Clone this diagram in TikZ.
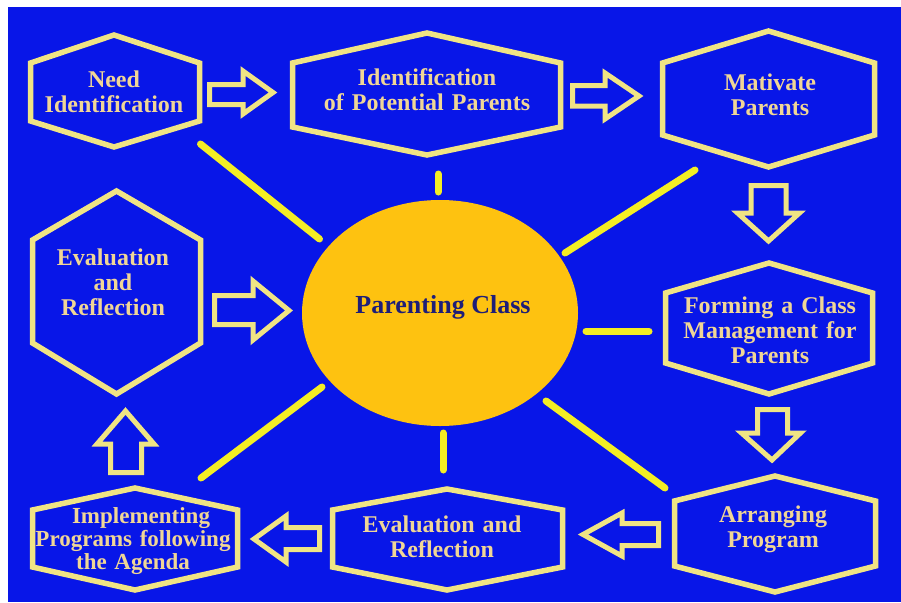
\documentclass[tikz,border=0pt]{standalone}
\usepackage{fontspec}
\setmainfont{Liberation Serif}
\usetikzlibrary{shapes.geometric}
\definecolor{bg}{RGB}{8,22,232}
\definecolor{edge}{RGB}{240,228,132}
\definecolor{spoke}{RGB}{244,238,36}
\definecolor{txt}{RGB}{240,214,150}
\definecolor{sun}{RGB}{254,194,16}
\definecolor{navy}{RGB}{30,30,120}
\begin{document}
\begin{tikzpicture}[x=1pt,y=-1pt,
  hexline/.style={draw=edge, line width=5.5pt, line join=miter, fill=bg},
  arrowline/.style={draw=edge, line width=5pt, line join=miter, fill=bg},
  boxlabel/.style={text=txt, font=\bfseries\fontsize{24}{25}\selectfont, align=center, text width=260pt, inner sep=0pt, anchor=base},
  spokeline/.style={draw=spoke, line width=7pt, line cap=round}]
\useasboundingbox (0,0) rectangle (901,602);
\fill[white] (0,0) rectangle (901,602);
\fill[bg] (8,7) rectangle (901,602);

% hexagons
\draw[hexline] (114,35) -- (199.5,63) -- (199.5,121) -- (114,147) -- (30.5,121) -- (30.5,63) -- cycle;
\draw[hexline] (427,33) -- (560.5,63) -- (560.5,127) -- (427,155) -- (292.5,127) -- (292.5,63) -- cycle;
\draw[hexline] (768.5,31) -- (874.5,63) -- (874.5,135) -- (768.5,167) -- (662.5,135) -- (662.5,63) -- cycle;
\draw[hexline] (116.5,191) -- (200.5,240) -- (200.5,343) -- (116.5,394) -- (32.5,343) -- (32.5,240) -- cycle;
\draw[hexline] (769,263) -- (872.5,293) -- (872.5,363) -- (769,394) -- (665.5,363) -- (665.5,293) -- cycle;
\draw[hexline] (775,476) -- (875.5,501) -- (875.5,566) -- (775,592) -- (674.5,566) -- (674.5,501) -- cycle;
\draw[hexline] (447,489) -- (562.5,510) -- (562.5,567) -- (447,590) -- (332.5,567) -- (332.5,510) -- cycle;
\draw[hexline] (135,488) -- (237.5,510) -- (237.5,567) -- (135,590) -- (32.5,567) -- (32.5,510) -- cycle;

% labels
\node[boxlabel] (need) at (114,87) {Need\\Identification};
\node[boxlabel] (ident) at (427,85) {Identification\\of Potential Parents};
\node[boxlabel] (mot) at (770,90) {Mativate\\Parents};
\node[boxlabel] (evl) at (113,265) {Evaluation\\and\\Reflection};
\node[boxlabel] (form) at (770,313) {Forming a Class\\Management for\\Parents};
\node[boxlabel] (arr) at (773,522) {Arranging\\Program};
\node[boxlabel] (evb) at (442,532) {Evaluation and\\Reflection};
\node[boxlabel, font=\bfseries\fontsize{23}{23}\selectfont] (impl) at (133,523) {\hspace*{16pt}Implementing\\Programs following\\the Agenda};

% centre
\node[ellipse, fill=sun, minimum width=276pt, minimum height=226pt, inner sep=0pt] (pc) at (440,313) {};
\node[text=navy, font=\bfseries\fontsize{26}{28}\selectfont, inner sep=0pt, anchor=base] (pct) at (443,313) {Parenting Class};

% spokes
\coordinate (s1a) at (200.5,144); \coordinate (s1b) at (319.5,239);
\coordinate (s2a) at (438,174);   \coordinate (s2b) at (438,192);
\coordinate (s3a) at (695,170);   \coordinate (s3b) at (565,253);
\coordinate (s4a) at (649,331);   \coordinate (s4b) at (586,331);
\coordinate (s5a) at (665,488);   \coordinate (s5b) at (546,401);
\coordinate (s6a) at (443,470);   \coordinate (s6b) at (443,433);
\coordinate (s7a) at (201,478);   \coordinate (s7b) at (322,387);
\foreach \i in {1,...,7} {\draw[spokeline] (s\i a) -- (s\i b);}

% block arrows
\draw[arrowline] (209.5,84.5) -- (243,84.5) -- (243,71) -- (273,92.5) -- (243,114) -- (243,104.5) -- (209.5,104.5) -- cycle;
\draw[arrowline] (572.5,85.5) -- (605,85.5) -- (605,73) -- (639,96) -- (605,119) -- (605,106) -- (572.5,106) -- cycle;
\draw[arrowline] (751,185.5) -- (786,185.5) -- (786,213) -- (799.5,213) -- (768.5,241) -- (737.5,213) -- (751,213) -- cycle;
\draw[arrowline] (757.5,409.5) -- (787.5,409.5) -- (787.5,433) -- (800.5,433) -- (772,460) -- (741.5,433) -- (757.5,433) -- cycle;
\draw[arrowline] (658.5,523.5) -- (622,523.5) -- (622,513) -- (583,534.5) -- (622,556) -- (622,545.5) -- (658.5,545.5) -- cycle;
\draw[arrowline] (319.5,527.5) -- (286,527.5) -- (286,516) -- (254,539) -- (286,562) -- (286,549.5) -- (319.5,549.5) -- cycle;
\draw[arrowline] (110.5,472.5) -- (110.5,444) -- (97,444) -- (125.5,411) -- (154,444) -- (141.5,444) -- (141.5,472.5) -- cycle;
\draw[arrowline] (214.5,295.5) -- (253,295.5) -- (253,281) -- (289,310.5) -- (253,340) -- (253,324.5) -- (214.5,324.5) -- cycle;
\end{tikzpicture}
\end{document}
